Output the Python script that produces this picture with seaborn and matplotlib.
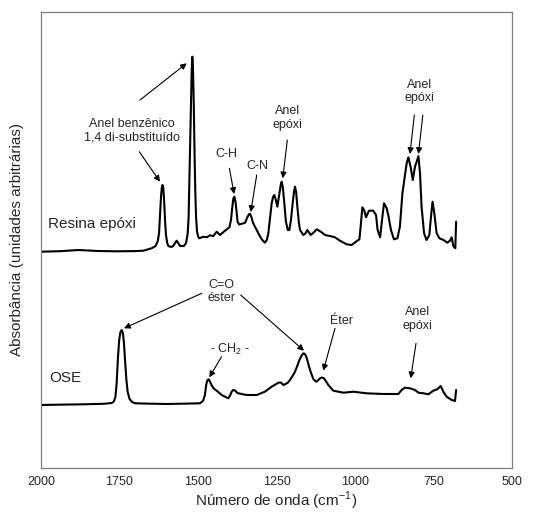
import numpy as np
import pandas as pd
import matplotlib
matplotlib.use("Agg")
import matplotlib.pyplot as plt
import seaborn as sns

# ---- data (wavenumber cm-1, absorbance a.u.) ----
resina_wn = [2000, 1940, 1881, 1820, 1759, 1700, 1674, 1648, 1635, 1628, 1624, 1621, 1618,
             1615.5, 1613, 1610.5, 1608, 1605, 1602, 1598, 1594.5,
             1585, 1579, 1572, 1568, 1564, 1557, 1545, 1538, 1533, 1530, 1527.5, 1525, 1522.5,
             1520, 1518, 1516, 1513.5, 1511, 1508.5, 1506, 1503, 1499, 1496,
             1483, 1472, 1462, 1451, 1440.5, 1430, 1414, 1400, 1395, 1391, 1387.5, 1384, 1380.5,
             1377, 1374, 1369, 1364, 1357, 1350, 1342, 1337, 1334, 1330, 1326, 1320, 1313, 1305,
             1297, 1287, 1281, 1276, 1270, 1265.4, 1261, 1257, 1252, 1247.3, 1243,
             1239, 1236, 1233.6, 1230, 1226, 1220, 1214, 1209, 1204, 1198.5, 1194, 1191, 1187.5,
             1183.6, 1179, 1175, 1164.5, 1158, 1152,
             1141, 1130, 1122, 1109, 1095.6, 1080, 1064, 1048, 1026.5, 1010.6, 997, 986, 982,
             976.6, 971, 965, 955.6, 942, 933, 928, 920, 914, 907.6, 899, 893, 885.5, 876,
             865, 857, 852, 849, 843, 835.5, 830, 823, 816, 809, 803.6, 798, 793, 788, 780, 772,
             763.3, 757, 753, 747.4, 740, 731, 718, 706, 697.5, 692, 687, 680.5, 678]
resina_abs = [216.3, 216.8, 218, 217, 216.7, 216.9, 217.3, 219.7, 222, 227, 235, 252, 270,
              280, 283, 280, 268, 248, 233, 225, 222,
              221, 222, 225.5, 227.3, 225.5, 222, 222, 225, 234, 250, 280, 318, 360,
              398, 411.3, 400, 365, 315, 275, 250, 236, 231, 229.7,
              231.3, 230.7, 232.7, 232, 236.3, 233, 237.3, 240.7, 248, 260, 269.5, 271.3, 266,
              256, 246.3, 243.5, 244, 244.5, 245.3, 251.3, 254, 254, 251, 246.3, 242, 238, 233,
              228.7, 225.3, 228, 234.7, 252, 264.7, 271, 273, 268, 261.3, 270,
              278, 284, 286.3, 281, 268, 246.3, 238, 238, 248, 264.7, 277, 281.3, 276,
              261.3, 246, 238, 233, 234.5, 238,
              233, 236, 238.7, 236.3, 233, 232, 230.7, 227.3, 223.7, 223, 226.3, 228.7, 241.3,
              260.7, 258, 250.7, 257.3, 257.3, 253, 238, 230.7, 248, 264.7, 259.7, 251.3, 238, 228.7,
              229.7, 241.3, 262, 274.7, 288, 304.7, 310.7, 301.3, 288, 301.3, 306.3, 312, 294.7, 261.3, 234.7, 228,
              233, 254.7, 266.3, 254.7, 234.7, 229.7, 228, 225.3, 227.3, 230.7, 222, 219.7, 246.3]

ose_wn = [2000, 1930, 1865, 1800, 1775, 1768, 1763, 1759, 1755, 1751, 1747, 1743, 1739.5,
          1736, 1732, 1728, 1724, 1718, 1710, 1700, 1650, 1600, 1550, 1494,
          1484, 1478, 1474, 1470, 1466, 1462, 1457, 1450, 1440.5, 1424.6, 1414, 1403.4, 1397,
          1392.8, 1388, 1382, 1376, 1371.5,
          1345, 1313, 1287, 1265.4, 1244, 1236, 1228, 1215, 1207, 1199, 1191, 1184, 1177,
          1170, 1164, 1160, 1156, 1152, 1146, 1141,
          1132.7, 1124, 1118, 1111.5, 1105, 1099, 1092, 1085, 1069, 1037, 1005, 963, 910, 862,
          851.4, 841, 825, 809, 798, 782, 766.5, 750.5, 738, 727, 718.7, 708, 692, 681.5, 678]
ose_abs = [63, 63.4, 63.7, 64.2, 65, 66.5, 71, 85, 110, 128, 136, 138, 135.5,
           126, 106, 88, 76, 69, 66, 64.7, 64.3, 64, 64.3, 64.7,
           67, 73, 83, 88, 88.7, 86.5, 83, 79.5, 77.3, 73, 71.3, 69.7, 73,
           76.3, 78, 77.5, 75.5, 74.7,
           73, 73, 76.3, 81.3, 85.3, 85.5, 83, 85, 88, 92, 96.3, 102, 108,
           112.5, 114.7, 114, 112, 108, 101, 96,
           89, 86.3, 87.5, 89.7, 90.5, 89.7, 86.5, 83, 77.3, 75.3, 76.3, 74.7, 74, 74,
           78, 80.3, 79.7, 78, 75.3, 74.7, 73.7, 77.3, 78.7, 82, 76.3, 71.3, 68, 67, 78]

series_names = ["Resina epóxi", "OSE"]
x_ticks = [2000, 1750, 1500, 1250, 1000, 750, 500]

df = pd.concat([
    pd.DataFrame({"wn": resina_wn, "abs": resina_abs, "amostra": series_names[0]}),
    pd.DataFrame({"wn": ose_wn, "abs": ose_abs, "amostra": series_names[1]}),
])

sns.set_style("white")
plt.rcParams["font.family"] = ["Liberation Sans", "DejaVu Sans"]
plt.rcParams["mathtext.fontset"] = "custom"
plt.rcParams["mathtext.rm"] = "Liberation Sans"

fig = plt.figure(figsize=(5.5, 5.12), dpi=100)
ax = fig.add_axes([41 / 550, 44 / 512, 471 / 550, 456 / 512])

sns.lineplot(data=df, x="wn", y="abs", hue="amostra", units="amostra", estimator=None,
             palette=["black", "black"], legend=False, linewidth=1.5, ax=ax)

ax.set_xlim(2000, 500)
ax.set_ylim(0, 456)
ax.set_xticks(x_ticks)
ax.set_xticklabels([str(t) for t in x_ticks], fontsize=9)
ax.set_yticks([])
ax.tick_params(axis="x", direction="out", length=4, width=0.8, color="#7f7f7f", pad=1.5)
for s in ax.spines.values():
    s.set_color("#7f7f7f")
    s.set_linewidth(0.9)

ax.set_xlabel("Número de onda (cm$^{\\mathregular{-1}}$)", fontsize=11)
ax.xaxis.set_label_coords(0.5, -0.047)
ax.set_ylabel("Absorbância (unidades arbitrárias)", fontsize=11)
ax.yaxis.set_label_coords(-0.036, 0.5)

ax.text(1977.7, 244, series_names[0], fontsize=11, ha="left", va="center")
ax.text(1974.5, 90.3, series_names[1], fontsize=11, ha="left", va="center")

ap = dict(arrowstyle="-|>", color="black", lw=0.8, mutation_scale=9, shrinkA=0, shrinkB=0)
fs = 9

def ann(text, tx, ty, arrows):
    ax.text(tx, ty, text, fontsize=fs, ha="center", va="center", linespacing=1.15)
    for (x0, y0, x1, y1) in arrows:
        ax.annotate("", xy=(x1, y1), xytext=(x0, y0), arrowprops=ap)

ann("Anel benzênico\n1,4 di-substituído", 1711, 337,
    [(1684.7, 368, 1536, 404.7), (1687, 316.3, 1621, 286.3)])
ann("C-H", 1408.6, 314, [(1400, 299.7, 1385, 274)])
ann("C-N", 1310, 302, [(1313, 293, 1332, 256)])
ann("Anel\nepóxi", 1215.6, 350, [(1215.6, 328, 1230, 289.7)])
ann("Anel\nepóxi", 795, 376.3, [(811, 353, 825, 314), (784, 353, 798, 314)])
ann("C=O\néster", 1424.5, 176.3, [(1488, 174.7, 1735.7, 139.7), (1364, 173, 1162.4, 117.3)])
ann("- CH$_\\mathregular{2}$ -", 1398, 118.7, [(1425, 111.3, 1464, 90.7)])
ann("Éter", 1042.4, 147.3, [(1063.7, 139.7, 1101, 97.3)])
ann("Anel\nepóxi", 800, 149, [(805.7, 124.7, 822.6, 89.7)])

fig.savefig("out.png", dpi=100)
